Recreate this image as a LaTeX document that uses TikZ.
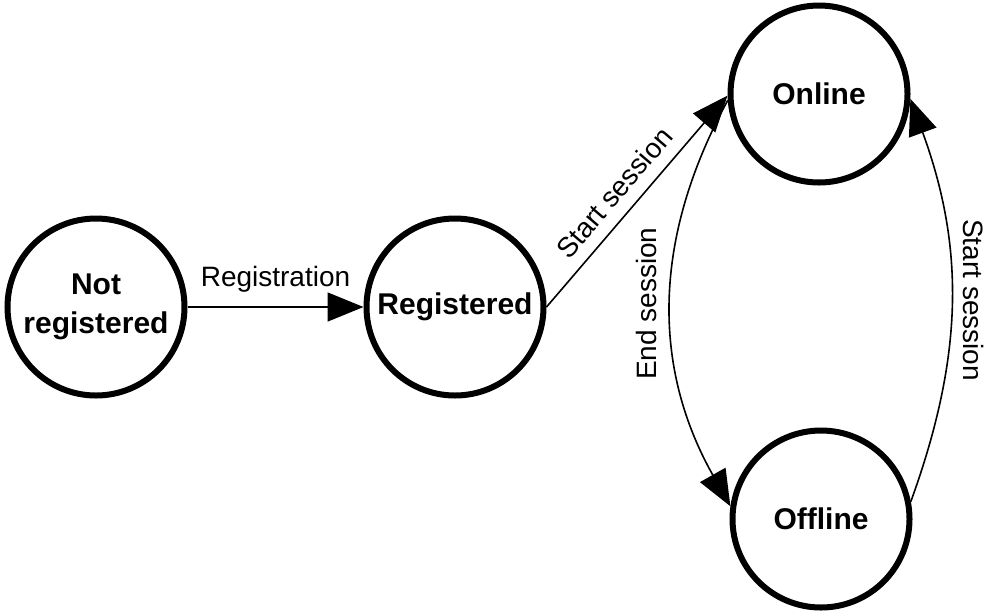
\documentclass[tikz,border=0pt]{standalone}
\usepackage{fontspec}
\setmainfont{Liberation Sans}
\usetikzlibrary{arrows.meta}
\tikzstyle{state}=[circle,draw,line width=6pt,minimum size=177pt,inner sep=0pt,align=center,font=\fontsize{30}{39}\selectfont\bfseries]
\tikzstyle{edge} = [draw,line width=1.6pt,-{Triangle[length=36pt,width=29pt]}]
\tikzstyle{weight} = [font=\fontsize{28}{32}\selectfont,inner sep=2pt]

\begin{document}
\begin{tikzpicture}[x=1pt,y=-1pt]
	\useasboundingbox (0,0) rectangle (1000,611);
	
	\foreach \pos/\name/\txt in {{(96,307)/nr/Not\\registered},{(455,307)/reg/Registered},{(819,94)/on/Online},{(821,519)/off/Offline}}
	\node[state] (\name) at \pos {\txt};
	
	\path[edge] (nr) -- node[weight,above=12pt] {Registration} (reg);
	\path[edge] (reg.east) -- node[weight,sloped,above=10pt,pos=0.47] {Start session} (on.181);
	\path[edge] (on.184) to[bend right=29] node[weight,midway,rotate=90,anchor=south,outer sep=13pt] {End session} (off.172);
	\path[edge] (off.11) to[bend right=20] node[weight,midway,rotate=-90,anchor=south,outer sep=10pt] {Start session} (on.-3);
\end{tikzpicture}
\end{document}
